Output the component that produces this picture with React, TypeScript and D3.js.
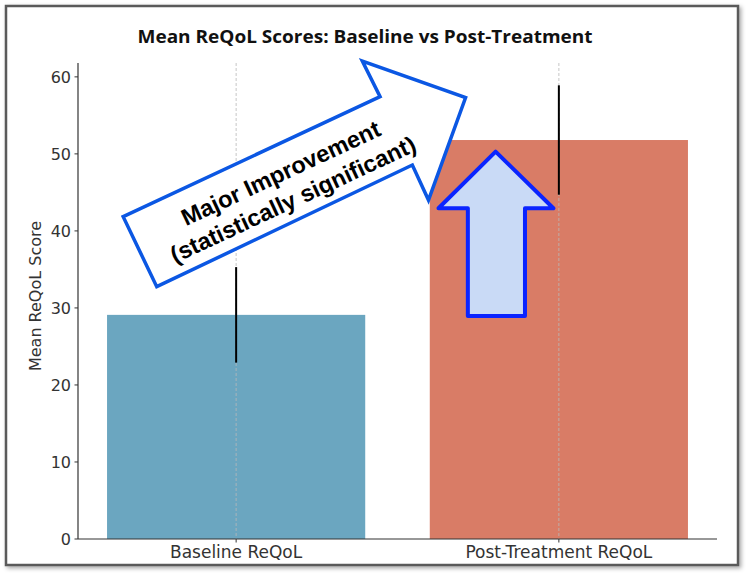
import React from "react";
import * as d3 from "d3";

const categories = ["Baseline ReQoL", "Post-Treatment ReQoL"];
const meanScores = [29.1, 51.8];
const errors = [6.2, 7.1];
const barColors = ["#6ba6c0", "#d97c66"];
const yTicks = [0, 10, 20, 30, 40, 50, 60];
const title = "Mean ReQoL Scores: Baseline vs Post-Treatment";
const yLabel = "Mean ReQoL Score";
const annotationLines = ["Major Improvement", "(statistically significant)"];

// annotation shapes in data coordinates (x: category index units, y: score)
const bigArrow: [number, number][] = [
  [-0.35, 41.85],
  [0.446, 57.43],
  [0.391, 62.06],
  [0.711, 57.3],
  [0.596, 44.01],
  [0.546, 48.56],
  [-0.246, 32.76],
];
const upArrow: [number, number][] = [
  [0.804, 50.29],
  [0.983, 42.94],
  [0.895, 42.94],
  [0.895, 28.95],
  [0.718, 28.95],
  [0.718, 42.94],
  [0.627, 42.94],
];
const textAnchorPt: [number, number] = [0.157, 45.8];

const W = 751;
const H = 577;
const left = 78;
const right = 717;
const top = 63;
const bottom = 539;

export default function App() {
  const xLin = d3.scaleLinear().domain([-0.49, 1.49]).range([left, right]);
  const y = d3.scaleLinear().domain([0, 61.8]).range([bottom, top]);
  const bw = xLin(0.4) - xLin(0);
  const pts = (arr: [number, number][]) =>
    arr.map(([a, b]) => `${xLin(a)},${y(b)}`).join(" ");
  const tf = "DejaVu Sans, sans-serif";
  const [tx, ty] = [xLin(textAnchorPt[0]), y(textAnchorPt[1])];

  return (
    <svg
      width={W}
      height={H}
      style={{ position: "absolute", left: 0, top: 0, background: "#fff" }}
    >
      <defs>
        <filter id="sh" x="-5%" y="-5%" width="110%" height="110%">
          <feDropShadow dx="2" dy="2" stdDeviation="2" floodColor="#000" floodOpacity="0.35" />
        </filter>
      </defs>
      <rect x={6} y={6} width={732} height={559} fill="#fff" stroke="#5a5a5a" strokeWidth={2.5} filter="url(#sh)" />

      <text x={365} y={43} textAnchor="middle" fontFamily="Open Sans, sans-serif" fontWeight={700} fontSize={18} fill="#111" textLength={455} lengthAdjust="spacingAndGlyphs">
        {title}
      </text>

      {categories.map((c, i) => (
        <rect key={c} x={xLin(i) - bw} y={y(meanScores[i])} width={bw * 2} height={bottom - y(meanScores[i])} fill={barColors[i]} />
      ))}

      {categories.map((c, i) => (
        <line key={"g" + c} x1={xLin(i)} x2={xLin(i)} y1={top} y2={bottom} stroke="#b8b8b8" strokeOpacity={0.8} strokeWidth={1} strokeDasharray="3,2" />
      ))}

      {categories.map((c, i) => (
        <line key={"e" + c} x1={xLin(i)} x2={xLin(i)} y1={y(meanScores[i] - errors[i])} y2={y(meanScores[i] + errors[i])} stroke="#000" strokeWidth={2} />
      ))}

      {/* axes */}
      <line x1={left} x2={left} y1={top} y2={bottom} stroke="#333" strokeWidth={1.2} />
      <line x1={left} x2={right} y1={bottom} y2={bottom} stroke="#333" strokeWidth={1.2} />
      {yTicks.map((t) => (
        <g key={t}>
          <line x1={left - 3.5} x2={left} y1={y(t)} y2={y(t)} stroke="#333" strokeWidth={1} />
          <text x={left - 7} y={y(t)} dy="0.36em" textAnchor="end" fontFamily={tf} fontSize={16} fill="#333">
            {t}
          </text>
        </g>
      ))}
      {categories.map((c, i) => (
        <g key={"xt" + c}>
          <line x1={xLin(i)} x2={xLin(i)} y1={bottom} y2={bottom + 3.5} stroke="#333" strokeWidth={1} />
          <text x={xLin(i)} y={558} textAnchor="middle" fontFamily={tf} fontSize={17} fill="#333">
            {c}
          </text>
        </g>
      ))}
      <text transform={`translate(41,296) rotate(-90)`} textAnchor="middle" fontFamily={tf} fontSize={16} fill="#333">
        {yLabel}
      </text>

      {/* annotations */}
      <polygon points={pts(bigArrow)} fill="#fff" stroke="#0b57e3" strokeWidth={3.5} strokeLinejoin="miter" />
      <polygon points={pts(upArrow)} fill="#c9daf6" stroke="#0a24ff" strokeWidth={4} strokeLinejoin="round" />
      <g transform={`translate(${tx},${ty}) rotate(-25)`}>
        {annotationLines.map((l, i) => (
          <text key={l} x={0} y={(i - 0.5) * 29} dy="0.35em" textAnchor="middle" fontFamily="Liberation Sans, Arial, sans-serif" fontWeight={700} fontSize={23.5} fill="#000">
            {l}
          </text>
        ))}
      </g>
    </svg>
  );
}
